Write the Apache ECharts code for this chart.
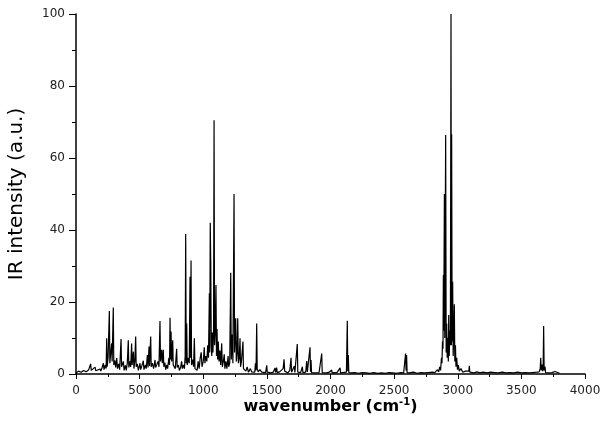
<!DOCTYPE html>
<html>
<head>
<meta charset="utf-8">
<script src="https://cdn.jsdelivr.net/npm/echarts@6/dist/echarts.min.js"></script>
<style>html,body{margin:0;padding:0;background:#fff}#c{width:602px;height:429px}</style>
</head>
<body>
<div id="c"></div>
<script>
// Tick labels
const xTicks = [0, 500, 1000, 1500, 2000, 2500, 3000, 3500, 4000];
const yTicks = [0, 20, 40, 60, 80, 100];

// Spectrum: wavenumber (cm-1) and IR intensity (a.u.)
const wavenumber = [
0,20,40,60,80,100,110,115,120,135,150,155,170,189,195,205,215,220,230,237,241,245,252,262,266,272,280,284,293,297,
305,312,320,326,335,343,354,358,365,372,378,388,395,403,411,415,422,430,437,441,451,455,462,469,473,482,490,503,508,517,
529,534,545,552,561,566,574,578,587,591,600,610,621,626,635,645,652,660,664,673,678,686,690,698,705,713,720,730,735,739,
743,747,752,760,764,772,780,791,795,805,812,822,830,836,845,852,858,862,866,870,874,884,890,896,900,904,908,918,924,930,
935,945,952,960,968,976,984,990,1000,1008,1013,1020,1028,1035,1041,1048,1051,1055,1059,1063,1067,1071,1076,1081,1085,1089,1095,1100,1104,1108,
1113,1118,1124,1131,1137,1145,1150,1158,1165,1170,1178,1186,1195,1200,1208,1216,1220,1228,1233,1242,1246,1255,1260,1266,1271,1276,1283,1289,1293,1300,
1312,1316,1325,1335,1345,1355,1370,1380,1395,1405,1410,1415,1420,1424,1432,1445,1460,1475,1490,1499,1503,1515,1530,1550,1564,1568,1577,1581,1600,1615,
1628,1635,1640,1650,1665,1680,1690,1694,1705,1716,1720,1730,1739,1743,1755,1765,1779,1783,1795,1805,1813,1818,1830,1839,1843,1847,1851,1865,1880,1895,
1910,1920,1931,1935,1950,1970,1990,2009,2013,2030,2050,2065,2075,2079,2095,2110,2125,2132,2136,2140,2144,2160,2190,2220,2250,2280,2310,2340,2370,2400,
2430,2460,2490,2520,2550,2575,2586,2590,2594,2598,2602,2620,2650,2680,2710,2740,2770,2800,2820,2840,2850,2858,2865,2872,2876,2880,2884,2887,2890,2895,
2898,2905,2909,2913,2917,2922,2926,2929,2933,2938,2942,2947,2950,2952,2956,2960,2964,2968,2973,2977,2982,2986,2992,2998,3005,3012,3025,3040,3060,3075,
3087,3091,3095,3110,3130,3150,3175,3200,3230,3260,3290,3320,3350,3380,3410,3440,3470,3500,3530,3560,3590,3620,3640,3648,3652,3656,3663,3667,3671,3675,
3679,3686,3690,3710,3740,3764,3770,3800
];
const intensity = [
0.3,0.8,0.5,1.0,0.6,1.2,0.8,2.8,1.0,1.5,1.9,0.9,1.3,1.4,0.8,1.8,3.0,1.2,2.5,1.5,9.9,2.0,4.5,17.5,3.0,5.5,8.5,3.5,18.5,2.5,
3.8,1.8,4.4,1.5,2.8,1.2,9.7,2.0,1.5,3.5,1.0,2.4,1.0,3.0,9.4,1.8,3.5,2.0,8.5,2.5,6.2,1.5,3.5,10.4,2.0,2.8,1.0,3.0,1.2,2.2,
3.7,1.2,2.5,1.5,5.3,1.8,7.6,2.2,10.4,2.0,3.0,1.5,3.9,1.8,2.6,3.5,2.0,14.7,3.5,6.7,3.0,6.7,2.0,3.2,1.2,2.5,1.5,4.5,2.5,15.6,
4.0,11.8,3.5,9.4,2.5,3.0,1.5,7.0,1.8,2.5,1.0,1.8,3.5,1.5,2.5,1.5,5.0,38.9,3.0,14.0,2.5,4.5,3.0,27.0,4.5,31.5,2.5,4.0,2.0,9.9,
1.5,2.0,1.0,3.5,1.5,4.5,6.0,2.0,3.5,7.4,3.0,5.0,3.5,8.0,4.5,22.4,6.0,42.0,30.7,8.0,5.0,11.5,6.0,12.0,70.5,8.0,12.0,24.7,5.0,12.5,
4.0,9.0,3.5,6.5,2.5,8.5,2.0,3.5,5.5,1.5,3.5,1.5,5.0,2.0,3.0,28.1,4.0,11.0,3.0,50.0,6.0,15.5,3.5,6.0,15.5,3.0,4.5,9.9,2.0,3.5,
9.0,1.5,2.0,0.8,2.0,0.5,1.5,0.6,1.0,0.5,3.0,1.0,14.0,1.5,0.6,1.2,0.5,0.8,0.4,2.4,0.5,0.8,0.3,0.5,1.7,0.4,1.8,0.4,0.6,0.3,
1.5,4.1,0.8,0.5,0.3,1.0,4.5,0.5,0.8,2.2,0.4,0.8,8.3,0.5,0.6,0.4,2.0,0.4,0.8,0.5,3.6,0.6,0.8,7.4,0.6,3.9,0.4,0.6,0.3,0.8,
0.4,0.6,5.7,0.4,0.5,0.3,0.5,1.1,0.3,0.4,0.3,0.5,1.7,0.3,0.4,0.3,0.5,14.8,0.8,5.3,0.4,0.3,0.4,0.2,0.4,0.3,0.2,0.4,0.2,0.3,
0.2,0.4,0.3,0.2,0.4,0.3,0.6,5.7,1.0,5.3,0.4,0.3,0.5,0.2,0.4,0.3,0.4,0.5,0.4,1.2,0.6,2.0,1.0,4.5,3.0,9.0,7.0,27.5,12.0,50.0,
10.0,66.4,6.0,14.0,4.5,10.0,3.5,16.4,5.0,12.0,8.0,100,8.0,66.6,9.0,25.6,5.0,10.0,19.4,3.5,8.0,2.0,4.5,1.2,2.5,0.8,1.5,0.5,0.8,0.4,
0.8,2.3,0.5,0.4,0.3,0.6,0.3,0.5,0.3,0.5,0.4,0.3,0.5,0.3,0.4,0.3,0.5,0.3,0.4,0.3,0.4,0.5,0.6,1.5,4.5,1.0,2.6,0.8,1.5,13.3,
1.0,2.1,0.4,0.3,0.4,0.7,0.3,0.2
];

const data = wavenumber.map((w, i) => [w, intensity[i]]);

const chart = echarts.init(document.getElementById('c'), null, {renderer: 'canvas'});
const tickFont = 'DejaVu Sans, sans-serif';
const nameFont = 'DejaVu Sans, sans-serif';
chart.setOption({
  animation: false,
  backgroundColor: '#fff',
  grid: {left: 76, right: 17, top: 14, bottom: 55, outerBoundsMode: 'none'},
  xAxis: {
    type: 'value', min: xTicks[0], max: xTicks[xTicks.length - 1], interval: 500,
    axisLine: {show: true, onZero: false, lineStyle: {color: '#000', width: 1.5}},
    axisTick: {show: true, length: 5, lineStyle: {color: '#000', width: 1}},
    minorTick: {show: true, splitNumber: 2, length: 3, lineStyle: {color: '#000', width: 1}},
    splitLine: {show: false},
    axisLabel: {color: '#222', fontSize: 12, margin: 11, fontFamily: tickFont, formatter: v => String(v)},
    name: 'wavenumber (cm{sup|-1})',
    nameLocation: 'middle', nameGap: 23, nameMoveOverlap: false,
    nameTextStyle: {color: '#000', fontSize: 16, fontWeight: 'bold', fontFamily: nameFont,
      rich: {sup: {fontSize: 10, fontWeight: 'bold', fontFamily: nameFont, color: '#000', verticalAlign: 'top', padding: [0, 0, 10, 0]}}}
  },
  yAxis: {
    type: 'value', min: yTicks[0], max: yTicks[yTicks.length - 1], interval: 20,
    axisLine: {show: true, lineStyle: {color: '#000', width: 1.5}},
    axisTick: {show: true, length: 7, lineStyle: {color: '#000', width: 1}},
    minorTick: {show: true, splitNumber: 2, length: 4, lineStyle: {color: '#000', width: 1}},
    splitLine: {show: false},
    axisLabel: {color: '#222', fontSize: 12, margin: 11, fontFamily: tickFont, formatter: v => String(v)},
    name: 'IR intensity (a.u.)',
    nameLocation: 'middle', nameGap: 49, nameMoveOverlap: false,
    nameTextStyle: {color: '#000', fontSize: 20, fontFamily: nameFont}
  },
  series: [{
    type: 'line', data: data, symbol: 'none', showSymbol: false,
    lineStyle: {color: '#000', width: 1.2}, clip: true
  }]
});
</script>
</body>
</html>
